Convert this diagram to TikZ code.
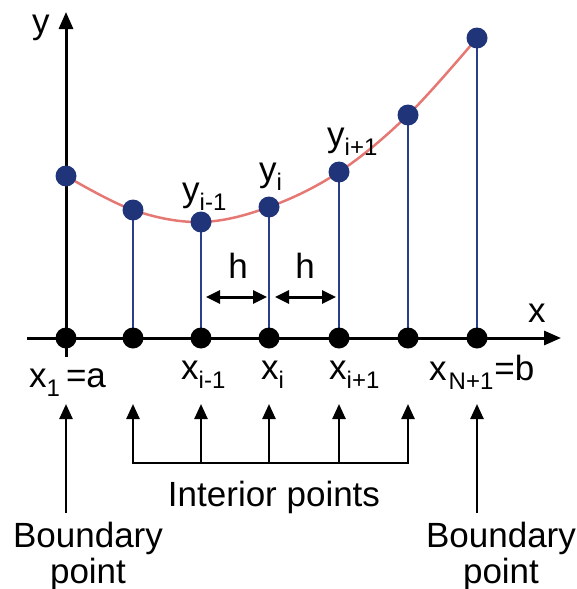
\documentclass[tikz,border=0pt]{standalone}
\usepackage{fontspec}
\setmainfont{Liberation Sans}
\usetikzlibrary{arrows.meta}
\definecolor{navy}{RGB}{31,52,121}
\definecolor{stemblue}{RGB}{42,62,140}
\definecolor{curvered}{RGB}{230,120,115}
\newcommand{\lowsub}[1]{\raisebox{-9pt}{\fontsize{24}{24}\selectfont #1}}
\begin{document}
\begin{tikzpicture}[x=1pt,y=-1pt,
  lbl/.style={inner sep=0pt, font=\fontsize{35}{37}\selectfont},
  bdot/.style={circle, fill=black, minimum size=21pt, inner sep=0pt},
  ndot/.style={circle, fill=navy, minimum size=21pt, inner sep=0pt},
  stemline/.style={stemblue, line width=2pt},
  axisline/.style={line width=3pt, -{Triangle[length=17pt,width=14pt]}},
  uparrow/.style={line width=2.5pt, -{Triangle[length=15pt,width=13pt]}},
  harrow/.style={line width=3pt, {Triangle[length=14pt,width=13pt]}-{Triangle[length=14pt,width=13pt]}},
  curveline/.style={curvered, line width=2.5pt}
  ]
\useasboundingbox (0,0) rectangle (577,589);
% grid positions
\coordinate (p1) at (66,338);
\coordinate (p2) at (133,338);
\coordinate (p3) at (201,338);
\coordinate (p4) at (269,338);
\coordinate (p5) at (339,338);
\coordinate (p6) at (408,338);
\coordinate (p7) at (477,338);
% function values
\coordinate (q1) at (66,176);
\coordinate (q2) at (133,210);
\coordinate (q3) at (201,222);
\coordinate (q4) at (269,207);
\coordinate (q5) at (339,172);
\coordinate (q6) at (408,115);
\coordinate (q7) at (477,38);
% curve
\draw[curveline] plot[smooth, tension=0.6] coordinates {(66,176) (133,210) (201,222) (269,207) (339,172) (408,115) (477,38)};
% stems
\foreach \i in {2,...,7} \draw[stemline] (q\i) -- (p\i);
% axes
\coordinate (xs) at (27,338);
\coordinate (xe) at (561,338);
\coordinate (ys) at (66,357);
\coordinate (ye) at (66,12);
\draw[axisline] (xs) -- (xe);
\draw[axisline] (ys) -- (ye);
% dots
\foreach \i in {1,...,7} {
  \node[ndot] (n\i) at (q\i) {};
  \node[bdot] (b\i) at (p\i) {};
}
% h arrows
\coordinate (h1a) at (206,297);
\coordinate (h1b) at (267,297);
\coordinate (h2a) at (275,297);
\coordinate (h2b) at (336,297);
\draw[harrow] (h1a) -- (h1b);
\draw[harrow] (h2a) -- (h2b);
% bottom arrows
\foreach \i/\x in {2/133,3/201,4/269,5/339,6/408} {
  \coordinate (t\i) at (\x,404);
  \coordinate (s\i) at (\x,463);
  \draw[uparrow] (s\i) -- (t\i);
}
\draw[line width=2.5pt, line cap=rect] (s2) -- (s6);
\coordinate (t1) at (66,404);
\coordinate (s1) at (66,513);
\coordinate (t7) at (477,404);
\coordinate (s7) at (477,513);
\draw[uparrow] (s1) -- (t1);
\draw[uparrow] (s7) -- (t7);
% labels
\node[lbl, anchor=base west] (ylab) at (32,34) {y};
\node[lbl, anchor=base west] (xlab) at (528,322) {x};
\node[lbl, anchor=base west] (yim) at (182,201) {y\lowsub{i-1}};
\node[lbl, anchor=base west] (yi) at (259,181) {y\lowsub{i}};
\node[lbl, anchor=base west] (yip) at (327,146) {y\lowsub{i+1}};
\node[lbl, anchor=base] (hl) at (238,278) {h};
\node[lbl, anchor=base] (hr) at (305,278) {h};
\node[lbl, anchor=base west] (x1) at (29,387) {x\lowsub{1}\hspace{6pt}=a};
\node[lbl, anchor=base west] (xim) at (181,379) {x\lowsub{i-1}};
\node[lbl, anchor=base west] (xi) at (261,379) {x\lowsub{i}};
\node[lbl, anchor=base west] (xip) at (329,379) {x\lowsub{i+1}};
\node[lbl, anchor=base west] (xN) at (429,380) {x\hspace{2pt}\lowsub{N+1}\hspace{1pt}=b};
\node[lbl, anchor=base] (interior) at (274,506) {Interior points};
\node[lbl, anchor=base] (bl1) at (88,547) {Boundary};
\node[lbl, anchor=base] (bl2) at (88,583) {point};
\node[lbl, anchor=base] (br1) at (501,547) {Boundary};
\node[lbl, anchor=base] (br2) at (501,583) {point};
\end{tikzpicture}
\end{document}
